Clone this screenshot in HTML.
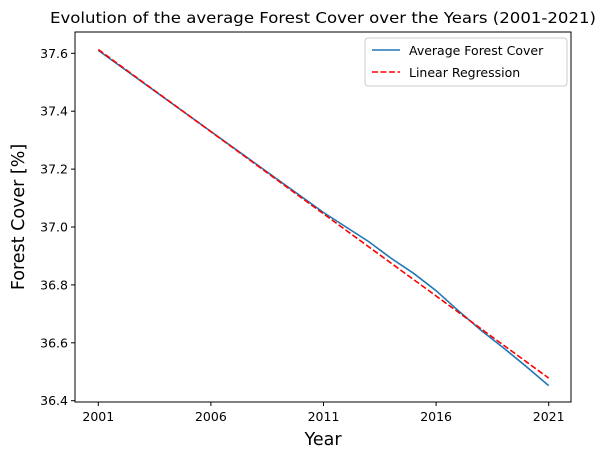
<!DOCTYPE html>
<html><head><meta charset="utf-8"><style>
body{margin:0;background:#fff}
svg text{font-family:"DejaVu Sans","Liberation Sans",sans-serif;fill:#000}
</style></head><body>
<svg id="chart" width="606" height="460" xmlns="http://www.w3.org/2000/svg">
<text x="323" y="23" text-anchor="middle" font-size="15.5" textLength="546" lengthAdjust="spacingAndGlyphs">Evolution of the average Forest Cover over the Years (2001-2021)</text>
<g id="plot"></g>
<text x="323" y="445" text-anchor="middle" font-size="17.5">Year</text>
<text transform="translate(24,217) rotate(-90)" text-anchor="middle" font-size="17.5">Forest Cover [%]</text>
<g>
<rect x="365" y="38" width="202" height="48" rx="3" fill="#fff" stroke="#ccc"/>
<line x1="372" y1="50" x2="400" y2="50" stroke="#1f77b4" stroke-width="1.6"/>
<text x="409" y="55" font-size="12.5">Average Forest Cover</text>
<line x1="372" y1="72" x2="400" y2="72" stroke="#f00" stroke-width="1.6" stroke-dasharray="6,2.5"/>
<text x="409" y="77" font-size="12.5">Linear Regression</text>
</g>
</svg>
<script>
const years=[2001,2002,2003,2004,2005,2006,2007,2008,2009,2010,2011,2012,2013,2014,2015,2016,2017,2018,2019,2020,2021];
const avgCover=[37.61,37.554,37.498,37.442,37.386,37.33,37.274,37.218,37.162,37.106,37.05,37.0,36.95,36.892,36.84,36.78,36.71,36.643,36.582,36.518,36.452];
const regStart=37.613;
const regEnd=36.478;
const xTicks=[2001,2006,2011,2016,2021];
const yTicks=[36.4,36.6,36.8,37.0,37.2,37.4,37.6];
const L=75,R=571,T=32,B=402;
function xs(v){return 98.3+(v-2001)*(548.7-98.3)/20;}
function ys(v){return 400.7-(v-36.4)*(400.7-53.3)/1.2;}
const NS="http://www.w3.org/2000/svg";
const g=document.getElementById('plot');
function mk(t,a){const e=document.createElementNS(NS,t);for(const k in a)e.setAttribute(k,a[k]);g.appendChild(e);return e;}
const frame=mk('rect',{x:L,y:T,width:R-L,height:B-T,fill:'none',stroke:'#000','stroke-width':1});


xTicks.forEach(v=>{
 const x=xs(v);
 const t=mk('line',{x1:x,y1:B,x2:x,y2:B+4,stroke:'#000'});
 
 
 const l=mk('text',{x:x,y:B+19,'text-anchor':'middle','font-size':12.5});
 l.textContent=v;
 
 
});
yTicks.forEach(v=>{
 const y=ys(v);
 const t=mk('line',{x1:L-4,y1:y,x2:L,y2:y,stroke:'#000'});
 
 
 const l=mk('text',{x:L-7,y:y+4.5,'text-anchor':'end','font-size':12.5});
 l.textContent=v.toFixed(1);
 
 
});
const pts=years.map((yr,i)=>xs(yr)+','+ys(avgCover[i])).join(' ');
const line=mk('polyline',{points:pts,fill:'none',stroke:'#1f77b4','stroke-width':1.6});


const reg=mk('line',{x1:xs(years[0]),y1:ys(regStart),x2:xs(years[years.length-1]),y2:ys(regEnd),stroke:'#f00','stroke-width':1.6,'stroke-dasharray':'6,2.5'});


</script>
</body></html>
